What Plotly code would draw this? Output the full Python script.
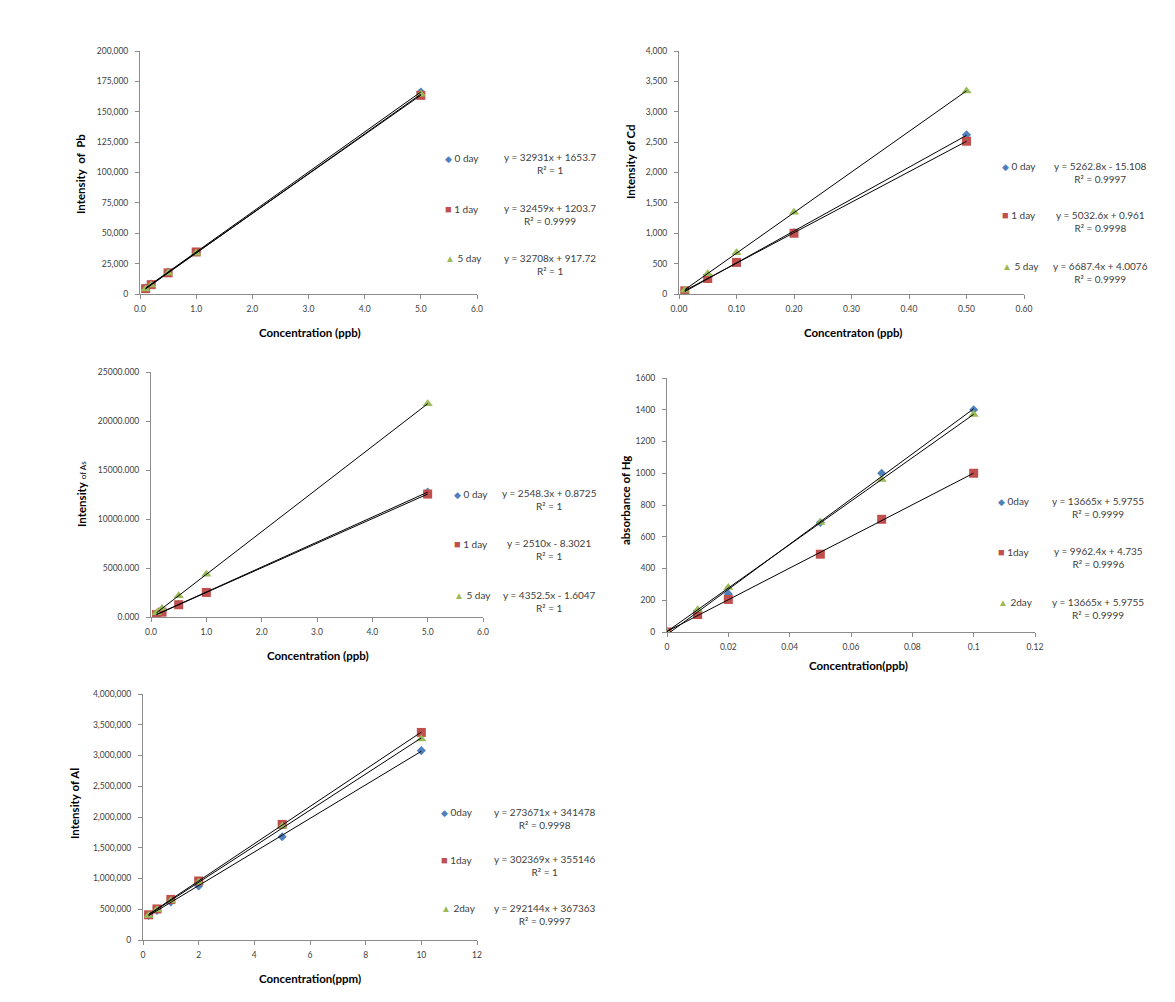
import numpy as np
import plotly.graph_objects as go

# page body has an 8px margin: keep the figure inside the window
OFF = 8
W, H = 1175 - 2 * OFF, 1002 - 2 * OFF

# ---------------- data ----------------
pb_x = [0.1, 0.2, 0.5, 1.0, 5.0]
pb_0 = [4900, 8200, 18100, 34600, 166300]
pb_1 = [4400, 7700, 17400, 34600, 163500]
pb_5 = [4200, 7500, 17300, 33600, 164500]

cd_x = [0.01, 0.05, 0.10, 0.20, 0.50]
cd_0 = [45, 255, 520, 1010, 2620]
cd_1 = [52, 255, 520, 1000, 2515]
cd_5 = [62, 335, 680, 1345, 3340]

as_x = [0.1, 0.2, 0.5, 1.0, 5.0]
as_0 = [255, 510, 1275, 2550, 12740]
as_1 = [245, 495, 1250, 2505, 12545]
as_5 = [435, 870, 2175, 4350, 21760]

hg_x = [0, 0.01, 0.02, 0.05, 0.07, 0.10]
hg_0 = [0, 130, 240, 690, 1000, 1400]
hg_1 = [0, 110, 205, 490, 710, 1000]
hg_2 = [0, 140, 280, 690, 960, 1370]

al_x = [0.2, 0.5, 1, 2, 5, 10]
al_0 = [400000, 480000, 620000, 880000, 1680000, 3080000]
al_1 = [410000, 505000, 660000, 960000, 1880000, 3375000]
al_2 = [400000, 490000, 640000, 940000, 1850000, 3270000]

labels_a = ["0 day", "1 day", "5 day"]
labels_b = ["0day", "1day", "2day"]

pb_eq = ["y = 32931x + 1653.7<br>R² = 1", "y = 32459x + 1203.7<br>R² = 0.9999", "y = 32708x + 917.72<br>R² = 1"]
cd_eq = ["y = 5262.8x - 15.108<br>R² = 0.9997", "y = 5032.6x + 0.961<br>R² = 0.9998", "y = 6687.4x + 4.0076<br>R² = 0.9999"]
as_eq = ["y = 2548.3x + 0.8725<br>R² = 1", "y = 2510x - 8.3021<br>R² = 1", "y = 4352.5x - 1.6047<br>R² = 1"]
hg_eq = ["y = 13665x + 5.9755<br>R² = 0.9999", "y = 9962.4x + 4.735<br>R² = 0.9996", "y = 13665x + 5.9755<br>R² = 0.9999"]
al_eq = ["y = 273671x + 341478<br>R² = 0.9998", "y = 302369x + 355146<br>R² = 1", "y = 292144x + 367363<br>R² = 0.9997"]

COLORS = ["#4F81BD", "#C0504D", "#9BBB59"]
SYMBOLS = ["diamond", "square", "triangle-up"]
GLYPHS = ["◆", "■", "▲"]
GLYPH_SIZES = [9, 11, 10]
SIZES = [7, 9, 9]
FONT = "Lato, 'Open Sans', sans-serif"
TICKC = "#404040"
AXC = "#8C8C8C"


def px(x):
    return (x - OFF) / W


def py(y):
    return 1 - (y - OFF) / H


panels = [
    dict(x=pb_x, ys=[pb_0, pb_1, pb_5], labels=labels_a, eqs=pb_eq,
         box=(140, 477, 51, 294), xr=[0, 6], dx=1, xf=".1f", yr=[0, 200000], dy=25000, yf=",",
         xt="<b>Concentration (ppb)</b>", yt="<b>Intensity  of  Pb</b>",
         xtpos=(310, 333), ytpos=(81, 174),
         leg=(443, [158, 208, 258]), eqx=550),
    dict(x=cd_x, ys=[cd_0, cd_1, cd_5], labels=labels_a, eqs=cd_eq,
         box=(679, 1024, 51, 294), xr=[0, 0.6], dx=0.1, xf=".2f", yr=[0, 4000], dy=500, yf=",",
         xt="<b>Concentraton (ppb)</b>", yt="<b>Intensity of Cd</b>",
         xtpos=(853, 333), ytpos=(630, 162),
         leg=(1000, [166, 215, 266]), eqx=1100),
    dict(x=as_x, ys=[as_0, as_1, as_5], labels=labels_a, eqs=as_eq,
         box=(151, 483, 372, 617), xr=[0, 6], dx=1, xf=".1f", yr=[0, 25000], dy=5000, yf=".3f",
         xt="<b>Concentration (ppb)</b>", yt="<b>Intensity</b> <span style='font-size:8px'>of As</span>",
         xtpos=(318, 655), ytpos=(81, 494),
         leg=(452, [494, 543, 595]), eqx=549),
    dict(x=hg_x, ys=[hg_0, hg_1, hg_2], labels=labels_b, eqs=hg_eq,
         box=(667, 1035, 378, 632), xr=[0, 0.12], dx=0.02, xf="", yr=[0, 1600], dy=200, yf="d",
         xt="<b>Concentration(ppb)</b>", yt="<b>absorbance of Hg</b>",
         xtpos=(858, 665), ytpos=(625, 501),
         leg=(996, [501, 551, 602]), eqx=1098),
    dict(x=al_x, ys=[al_0, al_1, al_2], labels=labels_b, eqs=al_eq,
         box=(143, 477, 694, 940), xr=[0, 12], dx=2, xf="", yr=[0, 4000000], dy=500000, yf=",",
         xt="<b>Concentration(ppm)</b>", yt="<b>Intensity of Al</b>",
         xtpos=(310, 978), ytpos=(74, 804),
         leg=(439, [812, 859, 908]), eqx=545),
]

fig = go.Figure()
annotations = []

for i, p in enumerate(panels):
    n = "" if i == 0 else str(i + 1)
    xa, ya = "x" + n, "y" + n
    x0, x1, y0, y1 = p["box"]
    xs = np.array(p["x"], dtype=float)
    for k, ys in enumerate(p["ys"]):
        fig.add_trace(go.Scatter(x=xs, y=ys, mode="markers", xaxis=xa, yaxis=ya,
                                 marker=dict(symbol=SYMBOLS[k], color=COLORS[k], size=SIZES[k],
                                             line=dict(width=0)),
                                 showlegend=False, hoverinfo="skip"))
    # linear trendlines: least squares fit of each series
    for k, ys in enumerate(p["ys"]):
        m, b = np.polyfit(xs, np.array(ys, dtype=float), 1)
        lx = np.array([xs.min(), xs.max()])
        fig.add_trace(go.Scatter(x=lx, y=m * lx + b, mode="lines", xaxis=xa, yaxis=ya,
                                 line=dict(color="#000000", width=1),
                                 showlegend=False, hoverinfo="skip"))
    axkw = dict(showgrid=False, zeroline=False, showline=True, linecolor=AXC, linewidth=1,
                ticks="outside", ticklen=4, tickcolor=AXC, automargin=False,
                tickfont=dict(family=FONT, size=8.5, color=TICKC))
    fig.layout["xaxis" + n] = dict(axkw, domain=[px(x0), px(x1)], range=p["xr"], dtick=p["dx"],
                                   tick0=0, tickformat=p["xf"], anchor=ya, ticklabelstandoff=3)
    fig.layout["yaxis" + n] = dict(axkw, domain=[py(y1), py(y0)], range=p["yr"], dtick=p["dy"],
                                   tick0=0, tickformat=p["yf"], anchor=xa, ticklabelstandoff=5)
    annotations.append(dict(text=p["xt"], x=px(p["xtpos"][0]), y=py(p["xtpos"][1]),
                            xref="paper", yref="paper", xanchor="center", yanchor="middle",
                            showarrow=False, font=dict(family=FONT, size=11.5, color="#000000")))
    annotations.append(dict(text=p["yt"], x=px(p["ytpos"][0]), y=py(p["ytpos"][1]),
                            xref="paper", yref="paper", xanchor="center", yanchor="middle",
                            showarrow=False, textangle=-90,
                            font=dict(family=FONT, size=11.5, color="#000000")))
    lx0, lys = p["leg"]
    for k in range(3):
        annotations.append(dict(
            text=f"<span style='color:{COLORS[k]};font-size:{GLYPH_SIZES[k]}px'>{GLYPHS[k]}</span> {p['labels'][k]}",
            x=px(lx0), y=py(lys[k]), xref="paper", yref="paper", xanchor="left", yanchor="middle",
            showarrow=False, font=dict(family=FONT, size=10, color="#404040")))
        annotations.append(dict(
            text=p["eqs"][k], x=px(p["eqx"]), y=py(lys[k] + 6), xref="paper", yref="paper",
            xanchor="center", yanchor="middle", align="center", showarrow=False,
            font=dict(family=FONT, size=10, color="#404040")))

fig.update_layout(width=W, height=H, margin=dict(l=0, r=0, t=0, b=0),
                  paper_bgcolor="white", plot_bgcolor="white", showlegend=False,
                  annotations=annotations)

fig.write_html("out.html")
